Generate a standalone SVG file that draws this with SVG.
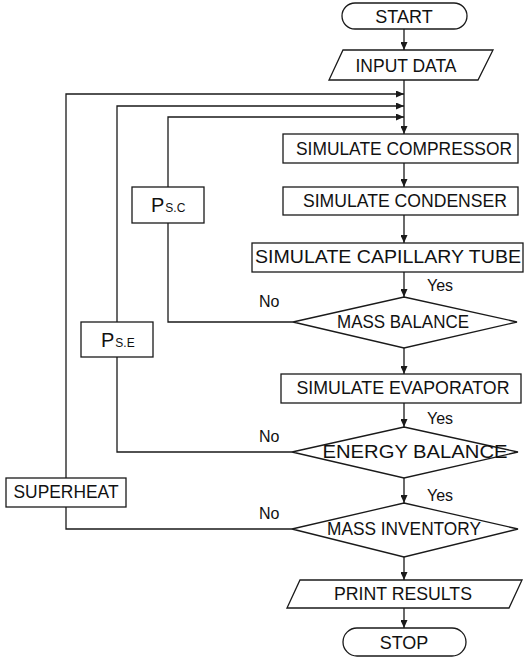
<svg xmlns="http://www.w3.org/2000/svg" width="525" height="658" viewBox="0 0 525 658">
<style>
.s{fill:#fff;stroke:#1a1a1a;stroke-width:1.3}
.c{fill:none;stroke:#1a1a1a;stroke-width:1.3}
text{font-family:"Liberation Sans",Arial,sans-serif;fill:#111}
.t{font-size:18px;text-anchor:middle}
.l{font-size:16px}
.sub{font-size:12px}
</style>
<defs>
<marker id="a" markerUnits="userSpaceOnUse" markerWidth="8" markerHeight="7" refX="8" refY="3.5" orient="auto">
<path d="M0,0 L8,3.5 L0,7 z" fill="#1a1a1a"/>
</marker>
</defs>
<rect width="525" height="658" fill="#fff"/>
<g id="connectors">
<path class="c" d="M404,29 V50" marker-end="url(#a)"/>
<path class="c" d="M404,80 V134" marker-end="url(#a)"/>
<path class="c" d="M404,163 V187" marker-end="url(#a)"/>
<path class="c" d="M404,215 V243" marker-end="url(#a)"/>
<path class="c" d="M404,272 V297" marker-end="url(#a)"/>
<path class="c" d="M404,348 V374" marker-end="url(#a)"/>
<path class="c" d="M404,403 V427" marker-end="url(#a)"/>
<path class="c" d="M404,478 V503" marker-end="url(#a)"/>
<path class="c" d="M404,557 V580" marker-end="url(#a)"/>
<path class="c" d="M404,608 V628" marker-end="url(#a)"/>
<path class="c" d="M293,322 H168 V223"/>
<path class="c" d="M168,187 V117 H404" marker-end="url(#a)"/>
<path class="c" d="M292,452 H117 V357"/>
<path class="c" d="M117,322 V106 H404" marker-end="url(#a)"/>
<path class="c" d="M292,529 H66 V507"/>
<path class="c" d="M66,478 V94 H404" marker-end="url(#a)"/>
<text class="l" x="427" y="291">Yes</text>
<text class="l" x="259" y="307">No</text>
<text class="l" x="427" y="424">Yes</text>
<text class="l" x="259" y="442">No</text>
<text class="l" x="427" y="501">Yes</text>
<text class="l" x="259" y="519">No</text>
</g>
<g id="start">
<rect class="s" x="342" y="3" width="125" height="26" rx="13"/>
<text class="t" x="404" y="22.5">START</text>
</g>
<g id="input">
<polygon class="s" points="343,50 493,50 478,80 329,80"/>
<text class="t" x="406" y="72" textLength="101" lengthAdjust="spacingAndGlyphs">INPUT DATA</text>
</g>
<g id="compressor">
<rect class="s" x="283" y="134" width="235" height="29"/>
<text class="t" x="404" y="155" textLength="216" lengthAdjust="spacingAndGlyphs">SIMULATE COMPRESSOR</text>
</g>
<g id="condenser">
<rect class="s" x="283" y="187" width="235" height="28"/>
<text class="t" x="405" y="207" textLength="204" lengthAdjust="spacingAndGlyphs">SIMULATE CONDENSER</text>
</g>
<g id="capillary">
<rect class="s" x="252" y="243" width="271" height="29"/>
<text class="t" x="388" y="263" textLength="266" lengthAdjust="spacingAndGlyphs">SIMULATE CAPILLARY TUBE</text>
</g>
<g id="mass-balance">
<polygon class="s" points="404,297 517,322 404,348 293,322"/>
<text class="t" x="403" y="328" textLength="132" lengthAdjust="spacingAndGlyphs">MASS BALANCE</text>
</g>
<g id="evaporator">
<rect class="s" x="281" y="374" width="240" height="29"/>
<text class="t" x="403" y="394" textLength="213" lengthAdjust="spacingAndGlyphs">SIMULATE EVAPORATOR</text>
</g>
<g id="energy-balance">
<polygon class="s" points="404,427 518,452 404,478 292,452"/>
<text class="t" x="415" y="458" textLength="185" lengthAdjust="spacingAndGlyphs">ENERGY BALANCE</text>
</g>
<g id="mass-inventory">
<polygon class="s" points="404,503 518,529 404,557 292,529"/>
<text class="t" x="404" y="535" textLength="154" lengthAdjust="spacingAndGlyphs">MASS INVENTORY</text>
</g>
<g id="print">
<polygon class="s" points="300,580 522,580 509,608 287,608"/>
<text class="t" x="403" y="600" textLength="138" lengthAdjust="spacingAndGlyphs">PRINT RESULTS</text>
</g>
<g id="stop">
<rect class="s" x="343" y="628" width="123" height="28" rx="14"/>
<text class="t" x="404" y="649">STOP</text>
</g>
<g id="psc">
<rect class="s" x="132" y="187" width="72" height="36"/>
<text x="151" y="212" font-size="20">P<tspan class="sub" dx="1">S.C</tspan></text>
</g>
<g id="pse">
<rect class="s" x="81" y="322" width="72" height="35"/>
<text x="101" y="347" font-size="20">P<tspan class="sub" dx="1">S.E</tspan></text>
</g>
<g id="superheat">
<rect class="s" x="6" y="478" width="120" height="29"/>
<text class="t" x="66" y="498" textLength="105" lengthAdjust="spacingAndGlyphs">SUPERHEAT</text>
</g>
</svg>
